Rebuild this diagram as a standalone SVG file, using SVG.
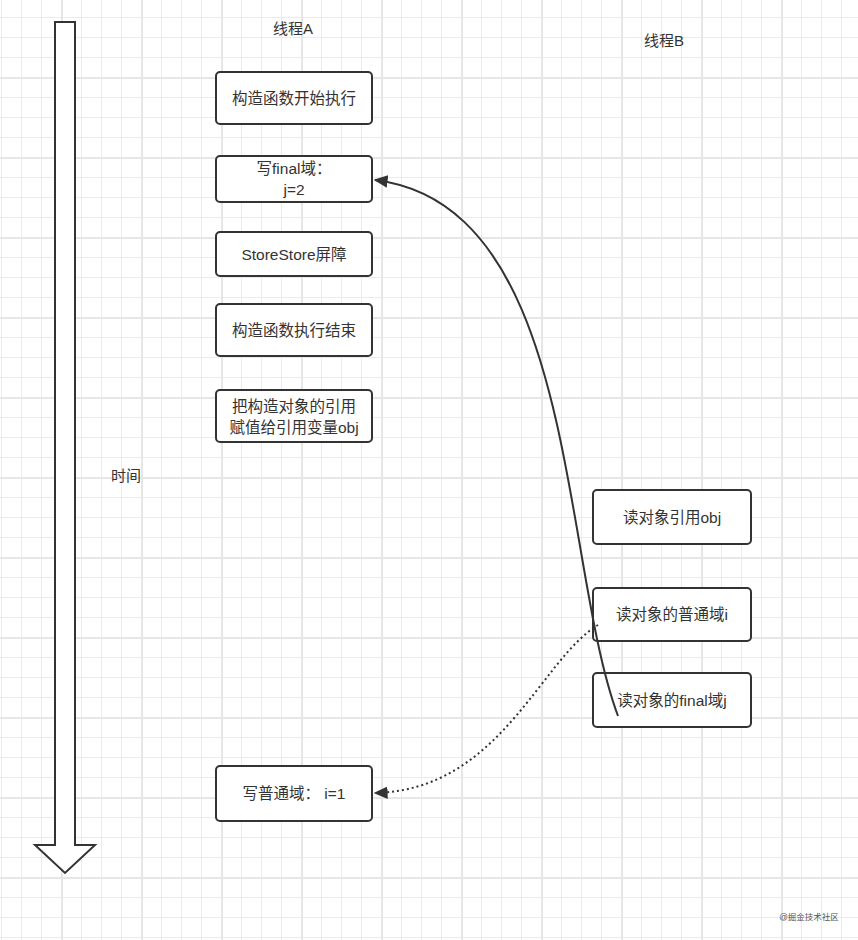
<svg xmlns="http://www.w3.org/2000/svg" width="858" height="940" viewBox="0 0 858 940">
<defs>
<pattern id="grid" patternUnits="userSpaceOnUse" x="61" y="77" width="80" height="80">
<path d="M20.5 0V80M40.5 0V80M60.5 0V80M0 20.5H80M0 40.5H80M0 60.5H80" stroke="#ebebeb" stroke-width="1" fill="none"/>
<path d="M1 0V80M0 1H80" stroke="#e6e6e6" stroke-width="2" fill="none"/>
</pattern>
<marker id="arr2" viewBox="0 0 10 10" refX="9" refY="5" markerWidth="14" markerHeight="14" markerUnits="userSpaceOnUse" orient="auto">
<path d="M0 0.5L10 5L0 9.5z" fill="#333"/>
</marker>
</defs>
<style>
.box{fill:#fff;stroke:#333;stroke-width:2}
.t{font-family:"Liberation Sans","Noto Sans CJK SC",sans-serif;font-size:15.5px;fill:#333;text-anchor:middle;dominant-baseline:central}
.lbl{font-family:"Liberation Sans","Noto Sans CJK SC",sans-serif;font-size:15px;fill:#333;text-anchor:middle;dominant-baseline:central}
</style>
<rect width="858" height="940" fill="#fff"/>
<rect width="858" height="940" fill="url(#grid)"/>

<g id="time-arrow">
<polygon points="55,22 75,22 75,845 95,845 65,873 35,845 55,845" fill="#fff" stroke="#333" stroke-width="2" stroke-linejoin="miter"/>
</g>
<g id="label-time"><text class="lbl" x="126" y="475">时间</text></g>
<g id="label-threadA"><text class="lbl" x="293" y="28">线程A</text></g>
<g id="label-threadB"><text class="lbl" x="664" y="40">线程B</text></g>

<g id="a1"><rect class="box" x="216" y="72" width="156" height="52" rx="4"/><text class="t" x="294" y="98">构造函数开始执行</text></g>
<g id="a2"><rect class="box" x="216" y="156" width="156" height="46" rx="4"/><text class="t" x="294" y="168">写final域：</text><text class="t" x="294" y="189">j=2</text></g>
<g id="a3"><rect class="box" x="216" y="232" width="156" height="44" rx="4"/><text class="t" x="294" y="254">StoreStore屏障</text></g>
<g id="a4"><rect class="box" x="216" y="304" width="156" height="52" rx="4"/><text class="t" x="294" y="330">构造函数执行结束</text></g>
<g id="a5"><rect class="box" x="216" y="390" width="156" height="52" rx="4"/><text class="t" x="294" y="406">把构造对象的引用</text><text class="t" x="294" y="427">赋值给引用变量obj</text></g>
<g id="a6"><rect class="box" x="216" y="766" width="156" height="55" rx="4"/><text class="t" x="294" y="793">写普通域：  i=1</text></g>

<g id="b1"><rect class="box" x="593" y="490" width="158" height="54" rx="4"/><text class="t" x="672" y="517">读对象引用obj</text></g>
<g id="b2"><rect class="box" x="593" y="588" width="158" height="53" rx="4"/><text class="t" x="672" y="614">读对象的普通域i</text></g>
<g id="b3"><rect class="box" x="593" y="673" width="158" height="54" rx="4"/><text class="t" x="672" y="700">读对象的final域j</text></g>

<g id="connectors" fill="none" stroke="#333" stroke-width="2">
<path d="M618 716C560 560 578 205 375 180" marker-end="url(#arr2)"/>
<path d="M598 625C540 660 500 790 375 793" stroke-dasharray="2 3" marker-end="url(#arr2)"/>
</g>

<g id="watermark"><text x="809" y="917" font-family="Liberation Sans,'Noto Sans CJK SC',sans-serif" font-size="8.5" fill="#555" text-anchor="middle" dominant-baseline="central">@掘金技术社区</text></g>
</svg>
